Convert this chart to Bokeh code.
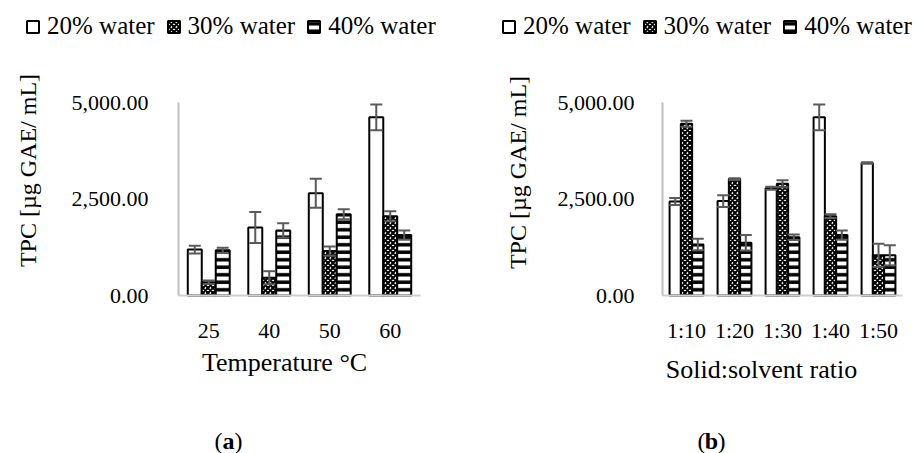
import math

from bokeh.embed import file_html
from bokeh.layouts import row
from bokeh.models import (ColumnDataSource, FixedTicker, Label, Legend, LegendItem,
                          LinearAxis, NumeralTickFormatter, Range1d, TeeHead, Whisker)
from bokeh.plotting import figure
from bokeh.resources import INLINE

FONT = "Liberation Serif"
ERR_COLOR = "#5a5a5a"
W, H = 462, 453

# ---- data -------------------------------------------------------------
series_labels = ["20% water", "30% water", "40% water"]
y_ticks = [0, 2500, 5000]

temperatures = ["25", "40", "50", "60"]
temp_20 = [1190, 1760, 2650, 4615]
temp_20_err = [100, 400, 375, 335]
temp_30 = [345, 460, 1150, 2055]
temp_30_err = [45, 170, 120, 130]
temp_40 = [1170, 1685, 2105, 1565]
temp_40_err = [70, 190, 130, 120]

ratios = ["1:10", "1:20", "1:30", "1:40", "1:50"]
ratio_20 = [2435, 2445, 2780, 4615, 3430]
ratio_20_err = [90, 155, 40, 335, 20]
ratio_30 = [4450, 3015, 2895, 2055, 1040]
ratio_30_err = [80, 20, 90, 50, 300]
ratio_40 = [1320, 1365, 1510, 1565, 1040]
ratio_40_err = [150, 200, 70, 120, 260]

# black-and-white fills for the three water contents
HATCHES = [
    dict(),
    dict(hatch_pattern="diagonal_cross", hatch_scale=5, hatch_weight=2),
    dict(hatch_pattern="horizontal_line", hatch_scale=7.5, hatch_weight=3.5),
]
BAR_STYLE = dict(fill_color="white", line_color="black", line_width=2, hatch_color="black")


def text(p, s, x, y, size, angle=0.0, style="normal", align="center"):
    p.add_layout(Label(x=x, y=y, x_units="screen", y_units="screen", text=s, angle=angle,
                       text_font=FONT, text_font_size=size, text_font_style=style,
                       text_align=align, text_baseline="middle", text_color="black"))


def panel(cats, series, area, bar_w, tick_standoff, x_tick_standoff, legend_x,
          y_title_xy, x_title, x_title_xy, tag, tag_xy):
    # area: plot-area edges in pixels (left, right, top, bottom) inside this panel
    left, right, top, bottom = area
    slot = (right - left) / len(cats)
    per_px = 5000 / (bottom - top)
    p = figure(width=W, height=H, output_backend="svg", toolbar_location=None,
               x_range=Range1d(-left / slot, (W - left) / slot),
               y_range=Range1d(-(H - bottom) * per_px, 5000 + top * per_px),
               x_axis_location=None, y_axis_location=None, min_border=0)
    p.outline_line_color = None
    p.xgrid.grid_line_color = None
    p.ygrid.grid_line_color = None

    centers = [i + 0.5 for i in range(len(cats))]
    items = []
    for k, ((vals, errs), hatch, name) in enumerate(zip(series, HATCHES, series_labels)):
        xs = [c + (k - 1) * bar_w for c in centers]
        src = ColumnDataSource(dict(
            x=xs, top=vals,
            upper=[v + e for v, e in zip(vals, errs)],
            lower=[v - e for v, e in zip(vals, errs)],
        ))
        r = p.vbar(x="x", top="top", width=bar_w, source=src, **BAR_STYLE, **hatch)
        p.add_layout(Whisker(
            base="x", upper="upper", lower="lower", source=src,
            line_color=ERR_COLOR, line_width=2, level="overlay",
            upper_head=TeeHead(size=12, line_color=ERR_COLOR, line_width=2),
            lower_head=TeeHead(size=12, line_color=ERR_COLOR, line_width=2)))
        items.append(LegendItem(label=name, renderers=[r]))

    ya = LinearAxis(fixed_location=0, bounds=(0, 5000),
                    ticker=FixedTicker(ticks=y_ticks),
                    formatter=NumeralTickFormatter(format="0,0.00"))
    ya.major_tick_line_color = None
    ya.minor_tick_line_color = None
    ya.axis_line_color = "#bfbfbf"
    ya.axis_line_width = 2
    ya.major_label_standoff = tick_standoff
    ya.major_label_text_font = FONT
    ya.major_label_text_font_size = "22px"
    ya.major_label_text_color = "black"
    p.add_layout(ya, "left")

    xa = LinearAxis(fixed_location=0, bounds=(0, len(cats)),
                    ticker=FixedTicker(ticks=centers),
                    major_label_overrides=dict(zip(centers, cats)))
    xa.major_tick_line_color = None
    xa.minor_tick_line_color = None
    xa.axis_line_color = "#d0d0d0"
    xa.axis_line_width = 2
    xa.major_label_standoff = x_tick_standoff
    xa.major_label_text_font = FONT
    xa.major_label_text_font_size = "22px"
    xa.major_label_text_color = "black"
    p.add_layout(xa, "below")

    p.add_layout(Legend(items=items, orientation="horizontal", location=(legend_x, H - 40),
                        border_line_color=None, background_fill_alpha=0,
                        label_text_font=FONT, label_text_font_size="25px",
                        label_text_color="black", glyph_width=15, glyph_height=15,
                        label_standoff=7, spacing=11, padding=0, margin=0))

    # texts positioned from the top-left of the panel
    yx, yy = y_title_xy
    text(p, "TPC [µg GAE/ mL]", yx, H - yy, "24px", angle=math.pi / 2)
    tx, ty = x_title_xy
    text(p, x_title, tx, H - ty, "26px")
    gx, gy = tag_xy
    text(p, "(", gx - 6, H - gy, "24px", align="right")
    text(p, tag, gx, H - gy, "24px", style="bold")
    text(p, ")", gx + 6, H - gy, "24px", align="left")
    return p


pa = panel(temperatures,
           [(temp_20, temp_20_err), (temp_30, temp_30_err), (temp_40, temp_40_err)],
           area=(178, 420, 102, 295), bar_w=0.231, tick_standoff=24, x_tick_standoff=22,
           legend_x=25, y_title_xy=(27, 170), x_title="Temperature °C",
           x_title_xy=(284, 362), tag="a", tag_xy=(228, 440))

pb = panel(ratios,
           [(ratio_20, ratio_20_err), (ratio_30, ratio_30_err), (ratio_40, ratio_40_err)],
           area=(200, 440, 102, 295), bar_w=0.235, tick_standoff=22, x_tick_standoff=16,
           legend_x=39, y_title_xy=(55, 172), x_title="Solid:solvent ratio",
           x_title_xy=(299, 369), tag="b", tag_xy=(249, 440))

open("out.html", "w").write(file_html(row(pa, pb, spacing=0), INLINE))
